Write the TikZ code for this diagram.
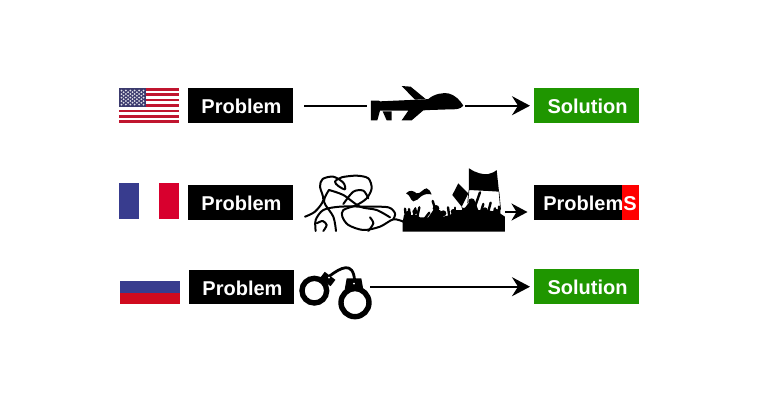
\documentclass[tikz,border=0pt]{standalone}
\usepackage{fontspec}
\setmainfont{Liberation Sans}
\usetikzlibrary{arrows.meta}
\definecolor{solgreen}{HTML}{1F9600}
\definecolor{usred}{HTML}{C0152F}
\definecolor{usblue}{HTML}{3C3B6E}
\definecolor{frblue}{HTML}{383C8E}
\definecolor{frred}{HTML}{D8002E}
\definecolor{rured}{HTML}{D00A1E}
\tikzset{
  tagbox/.style={minimum width=105pt,minimum height=34.5pt,inner sep=0pt,outer sep=0pt,font=\fontsize{20}{20}\selectfont\bfseries,text=white,text depth=0pt,text height=16pt,execute at begin node=\hspace*{2pt}},
  problembox/.style={tagbox,fill=black},
  solutionbox/.style={tagbox,fill=solgreen},
  iconspot/.style={inner sep=0pt,outer sep=0pt,minimum height=2pt},
  flow/.style={line width=2pt,black},
  flowtip/.style={flow,-{Stealth[length=18pt,width=19pt,inset=6pt]}},
  scrib/.style={line width=2pt,black,line cap=round,line join=round},
  arm/.style={line width=2.4pt,black,line cap=round},
  zoomed/.style={x=0.3333pt,y=-0.3333pt}
}
\begin{document}
\begin{tikzpicture}[x=1pt,y=-1pt]
\useasboundingbox (0,0) rectangle (760,400);
% USA flag
\foreach \i in {0,2,...,12} \fill[usred] (119,{88+\i*35/13}) rectangle (179,{88+(\i+1)*35/13});
\fill[usblue] (119,88) rectangle (146,107);
\foreach \r in {0,...,4} \foreach \c in {0,...,5}
  \fill[white!85!usblue] ({121.5+\c*4.4},{90.5+\r*3.5}) circle (1pt);
\foreach \r in {0,...,3} \foreach \c in {0,...,4}
  \fill[white!85!usblue] ({123.7+\c*4.4},{92.2+\r*3.5}) circle (1pt);
% France flag
\fill[frblue] (119,183) rectangle (139,219);
\fill[frred] (159,183) rectangle (179,219);
% Russia flag
\fill[frblue] (120,281) rectangle (180,292.5);
\fill[rured] (120,292.5) rectangle (180,304);
% Boxes
\node[problembox] (p1) at (240.5,105.3) {Problem};
\node[problembox] (p2) at (240.5,202.5) {Problem};
\node[problembox] (p3) at (241.5,287) {Problem};
\node[solutionbox] (s1) at (586.5,105.3) {Solution};
\node[solutionbox] (s3) at (586.5,286.5) {Solution};
\node[problembox] (pb) at (586.5,202.3) {};
\fill[red] (622,185) rectangle (639,219.5);
\node[tagbox,fill=none] (pbt) at ([xshift=2.5pt]pb.center) {ProblemS};
% Drone
\begin{scope}[shift={(300,75)},zoomed]
\fill (213,77) -- (237,77) -- (240,79) -- (375,73) -- (385,72) .. controls (405,55) and (430,53) .. (445,55)
  .. controls (465,60) and (480,75) .. (490,92) .. controls (480,103) and (470,103) .. (450,103)
  -- (390,105) -- (370,106) -- (335,136) -- (305,136) -- (325,107) -- (240,107) -- (232,136) -- (213,136) -- cycle;
\fill (305,33) -- (332,35) -- (377,72) -- (345,74) -- cycle;
\fill (248,109) -- (275,109) -- (275,136) -- (260,136) -- cycle;
\end{scope}
\node[iconspot,minimum width=98pt] (drone) at (416,105.7) {};
\draw[flow,shorten <=11pt] (p1.east |- drone.west) -- (drone.west);
\draw[flowtip,shorten >=4pt] (drone.east) -- (s1.west |- drone.east);
% Scribble
\begin{scope}[shift={(300,160)},zoomed]
\clip (0,0) rectangle (320,214);
\draw[scrib] plot[smooth] coordinates {(15,170) (45,155) (70,120) (60,80) (68,57) (100,50) (130,68) (135,88) (115,78) (105,65) (125,52) (170,47) (205,55) (215,85) (200,115) (170,135) (130,150) (127,170) (145,195) (190,210) (240,200) (280,178) (310,185)};
\draw[scrib] plot[smooth] coordinates {(47,213) (47,180) (70,150) (120,140) (200,140) (265,142) (285,160) (280,178)};
\draw[scrib] plot[smooth] coordinates {(87,90) (72,125) (100,170) (108,213)};
\draw[scrib] plot[smooth] coordinates {(87,90) (130,105) (180,140) (230,150) (270,172)};
\draw[scrib] plot[smooth] coordinates {(130,132) (160,95) (190,92) (205,115)};
\draw[scrib] plot[smooth] coordinates {(210,172) (220,190) (205,213)};
\draw[scrib] plot[smooth] coordinates {(50,190) (68,183) (80,195) (70,213)};
\end{scope}
% Crowd
\begin{scope}[shift={(400,160)},zoomed]
\fill (8,185) -- (12,165) -- (50,165) -- (60,172) -- (85,172) -- (100,150) -- (120,150) -- (130,170) -- (150,165) -- (165,150) -- (190,150) -- (205,130) -- (225,125) -- (235,150) -- (260,150) -- (285,155) -- (300,160) -- (315,170) -- (315,215) -- (8,215) -- cycle;
\foreach \a/\b/\c/\d in {18/175/15/146, 30/175/27/147, 40/175/46/145, 52/170/58/142, 75/175/88/158, 110/160/98/123, 125/172/112/148, 148/170/144/142, 165/165/165/143, 180/165/192/146, 195/160/205/142, 240/165/250/132, 262/165/272/128, 280/170/285/145, 298/170/297/140, 225/140/240/97}
  \draw[arm] (\a,\b) -- (\c,\d);
\foreach \p/\q/\r in {25/160/8, 45/155/8, 108/145/10, 130/160/9, 160/155/8, 215/125/10, 255/150/8, 290/155/8}
  \fill (\p,\q) circle[radius=\r];
\fill (207,25) .. controls (225,38) and (250,45) .. (265,42) .. controls (275,40) and (285,35) .. (290,30) -- (297,95) -- (265,93) -- (207,90) -- cycle;
\fill (175,70) -- (205,100) -- (185,140) -- (157,105) -- cycle;
\draw[line width=0.6pt] (207,90) -- (203,130) (297,95) -- (302,150) (185,140) -- (195,160);
\fill (18,100) .. controls (30,88) and (40,92) .. (50,100) .. controls (62,102) and (70,85) .. (80,85)
  .. controls (88,88) and (92,95) .. (95,103) .. controls (85,100) and (75,102) .. (65,108)
  .. controls (55,115) and (50,124) .. (40,124) .. controls (30,120) and (32,105) .. (18,100) -- cycle;
\end{scope}
\node[iconspot,minimum width=102pt] (crowd) at (454,212) {};
\coordinate (tipb) at (527.5,212);
\draw[flowtip,line width=1.8pt,-{Stealth[length=16pt,width=17pt,inset=5pt]}] (crowd.east) -- (tipb);
% Handcuffs
\begin{scope}[shift={(290,255)},zoomed]
\draw[line width=5.4pt] (73,107) circle[radius=37];
\draw[line width=5.4pt] (195,143) circle[radius=42];
\draw[line width=2.8pt,line cap=round] (120,62) .. controls (150,40) and (190,15) .. (194,78);
\fill[rotate around={-37:(113,72)}] (93,60) rectangle (133,84);
\fill (170,70) -- (214,70) -- (220,104) -- (164,104) -- cycle;
\fill[white] (117,68) circle[radius=3];
\fill[white] (192,86) circle[radius=3];
\end{scope}
\node[iconspot,minimum width=70pt] (cuffs) at (335,286.7) {};
\draw[flowtip,shorten >=4pt] (cuffs.east) -- (s3.west |- cuffs.east);
\end{tikzpicture}
\end{document}
